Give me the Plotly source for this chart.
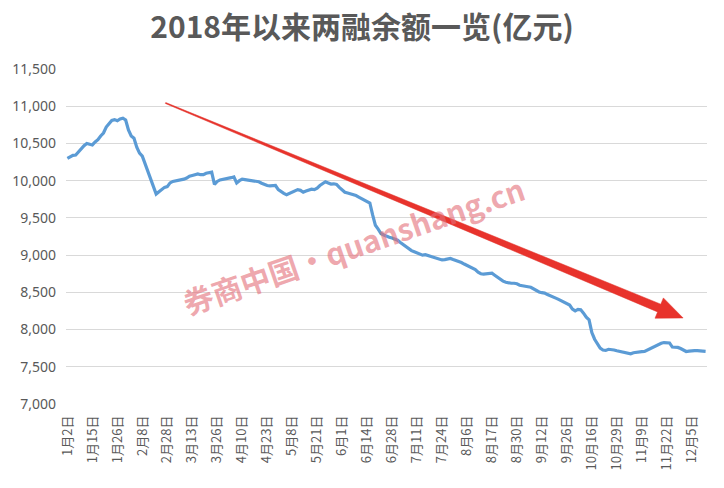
import math
import pandas as pd
import plotly.graph_objects as go

# ---------------- data ----------------
title_text = "2018年以来两融余额一览(亿元)"
watermark_text = "券商中国·quanshang.cn"

# 2018 A-share weekday market holidays (used to build the trading-day categories)
holidays = ["2018-01-01", "2018-02-15", "2018-02-16", "2018-02-19", "2018-02-20",
            "2018-02-21", "2018-04-05", "2018-04-06", "2018-04-30", "2018-05-01",
            "2018-06-18", "2018-09-24", "2018-10-01", "2018-10-02", "2018-10-03",
            "2018-10-04", "2018-10-05"]
start_date = "2018-01-02"
end_date = "2018-12-12"

# margin balance (亿元), one value per trading day
balance = [
    10300, 10320, 10340, 10345, 10390, 10430, 10470, 10500, 10490, 10480,
    10520, 10550, 10600, 10640, 10720, 10760, 10810, 10820, 10805, 10830,
    10840, 10815, 10680, 10600, 10570, 10450, 10370, 10330, 10230, 10130,
    10020, 9900, 9820, 9850, 9880, 9910, 9920, 9970, 9990, 9995,
    10005, 10015, 10020, 10035, 10060, 10070, 10085, 10090, 10080, 10080,
    10100, 10105, 10115, 9950, 9990, 10010, 10015, 10020, 10030, 10040,
    10050, 9970, 10000, 10020, 10015, 10010, 10010, 10005, 10000, 9985,
    9965, 9945, 9935, 9930, 9930, 9935, 9880, 9850, 9830, 9810,
    9825, 9840, 9860, 9880, 9870, 9845, 9860, 9875, 9885, 9880,
    9900, 9935, 9960, 9985, 9970, 9955, 9958, 9950, 9910, 9880,
    9845, 9835, 9825, 9820, 9800, 9780, 9760, 9740, 9725, 9700,
    9540, 9400, 9350, 9290, 9270, 9250, 9240, 9230, 9220, 9200,
    9170, 9140, 9110, 9080, 9060, 9045, 9030, 9010, 9000, 9005,
    8995, 8985, 8970, 8958, 8945, 8935, 8940, 8950, 8955, 8940,
    8930, 8915, 8900, 8880, 8860, 8835, 8820, 8805, 8770, 8750,
    8745, 8750, 8755, 8757, 8730, 8700, 8676, 8650, 8635, 8625,
    8622, 8622, 8615, 8595, 8585, 8578, 8575, 8568, 8545, 8525,
    8505, 8495, 8490, 8470, 8450, 8435, 8422, 8405, 8388, 8365,
    8350, 8330, 8275, 8250, 8270, 8265, 8220, 8165, 8130, 7960,
    7870, 7810, 7750, 7725, 7720, 7735, 7735, 7725, 7715, 7705,
    7695, 7688, 7680, 7675, 7688, 7695, 7703, 7703, 7705, 7725,
    7745, 7765, 7780, 7800, 7815, 7825, 7825, 7820, 7765, 7762,
    7760, 7745, 7725, 7705, 7710, 7718, 7718, 7717, 7715, 7710,
    7708,
]

tick_labels = ["1月2日", "1月15日", "1月26日", "2月8日", "2月28日", "3月13日", "3月26日",
               "4月10日", "4月23日", "5月8日", "5月21日", "6月1日", "6月14日", "6月28日",
               "7月11日", "7月24日", "8月6日", "8月17日", "8月30日", "9月12日", "9月26日",
               "10月16日", "10月29日", "11月9日", "11月22日", "12月5日"]
y_ticks = [7000, 7500, 8000, 8500, 9000, 9500, 10000, 10500, 11000, 11500]

# ---------------- categories ----------------
days = pd.bdate_range(start_date, end_date)
days = days[~days.isin(pd.to_datetime(holidays))]
dates = [f"{d.month}月{d.day}日" for d in days][:len(balance)]

# ---------------- layout geometry (pixels) ----------------
W, H = 724, 488
L, R, T, B = 63, 707, 69, 404


def to_paper(px, py):
    return (px - L) / (R - L), (B - py) / (B - T)


fig = go.Figure()
fig.add_trace(go.Scatter(
    x=dates, y=balance, mode="lines",
    line=dict(color="#5B9BD5", width=3.2),
    hovertemplate="%{x}: %{y:,}<extra></extra>",
))

# tapered red arrow (decoration)
sx, sy = 163, 103
tx, ty = 683, 318
dx, dy = tx - sx, ty - sy
ln = math.hypot(dx, dy)
ux, uy = dx / ln, dy / ln
nx, ny = -uy, ux
head_len, head_half = 26, 11
w0, w1 = 0.5, 4.2
bx, by = tx - head_len * ux, ty - head_len * uy
pts = [
    (sx + w0 * nx, sy + w0 * ny),
    (bx + w1 * nx, by + w1 * ny),
    (bx + head_half * nx, by + head_half * ny),
    (tx, ty),
    (bx - head_half * nx, by - head_half * ny),
    (bx - w1 * nx, by - w1 * ny),
    (sx - w0 * nx, sy - w0 * ny),
]
path = "M " + " L ".join(f"{to_paper(px, py)[0]:.5f},{to_paper(px, py)[1]:.5f}" for px, py in pts) + " Z"
fig.add_shape(type="path", path=path, xref="paper", yref="paper",
              fillcolor="#E8332C", line=dict(color="#E03028", width=0.5), layer="above")

# watermark
wx, wy = to_paper(352, 245)
fig.add_annotation(text=f"<b>{watermark_text}</b>", x=wx, y=wy, xref="paper", yref="paper",
                   showarrow=False, textangle=-19,
                   font=dict(family="Noto Sans CJK SC", size=30, color="rgba(228,110,120,0.6)"))

fig.update_layout(
    width=W, height=H,
    margin=dict(l=L, r=W - R, t=T, b=H - B, pad=0),
    paper_bgcolor="white", plot_bgcolor="white",
    showlegend=False,
    title=dict(text=f"<b>{title_text}</b>", x=0.5, xanchor="center", y=1 - 27 / H, yanchor="middle",
               font=dict(family="Noto Sans CJK SC", size=30, color="#595959")),
    xaxis=dict(type="category", range=[-0.5, len(balance) - 0.5],
               tickmode="array", tickvals=tick_labels, ticktext=tick_labels,
               tickangle=-90, showgrid=False, showline=False, zeroline=False, ticks="",
               ticklabelstandoff=8,
               tickfont=dict(family="Noto Sans CJK SC", size=13, color="#595959")),
    yaxis=dict(range=[7000, 11500], tickvals=y_ticks, tickformat=",",
               showgrid=True, gridcolor="#D9D9D9", gridwidth=1, zeroline=False,
               showline=False, ticks="", ticklabelstandoff=9,
               tickfont=dict(family="Noto Sans", size=14, color="#595959")),
)

fig.write_html("out.html", config={"displayModeBar": False},
               post_script="document.body.style.margin='0';")
